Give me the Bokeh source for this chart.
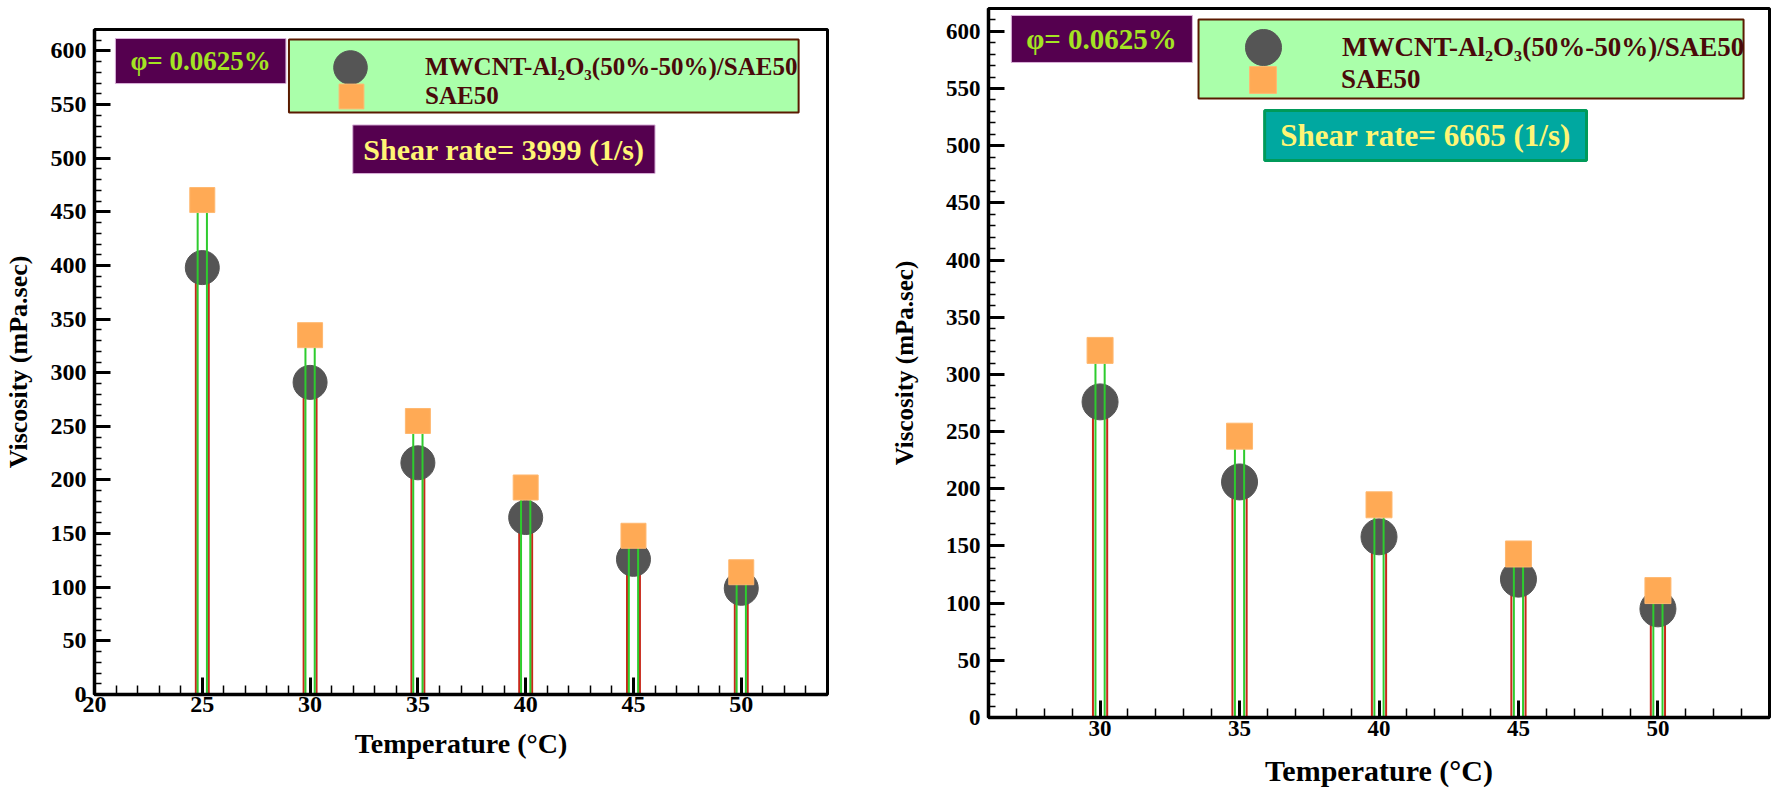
from bokeh.plotting import figure
from bokeh.models import Range1d, FixedTicker, BoxAnnotation, Label, Legend, LegendItem
from bokeh.embed import file_html
from bokeh.resources import INLINE

# ---------------- data ----------------
temps_3999 = [25, 30, 35, 40, 45, 50]
nanofluid_3999 = [398, 291, 216, 165, 126, 99]
sae50_3999 = [461, 335, 255, 193, 148, 114]

temps_6665 = [30, 35, 40, 45, 50]
nanofluid_6665 = [276, 206, 158, 121, 95]
sae50_6665 = [321, 246, 186, 143, 111]

x_major_3999 = [20, 25, 30, 35, 40, 45, 50]
x_minor_3999 = list(range(21, 54))
x_major_6665 = [30, 35, 40, 45, 50]
x_minor_6665 = list(range(27, 54))
y_major = list(range(0, 601, 50))
y_minor = list(range(0, 620, 10))

legend_labels = ["MWCNT-Al\u2082O\u2083(50%-50%)/SAE50", "SAE50"]
phi_text = "\u03c6= 0.0625%"
shear_texts = ["Shear rate= 3999 (1/s)", "Shear rate= 6665 (1/s)"]
x_title = "Temperature (\u00b0C)"
y_title = "Viscosity (mPa.sec)"

FONT = "Liberation Serif"
RED = "#c8281a"
GREEN = "#2ecc2e"
DARK = "#555555"
ORANGE = "#ffaa55"


def make_panel(temps, nano, base, xr, xmaj, xmin, width, height,
               mb, red_w, green_w, circ_size, sq_size, ann):
    p = figure(width=width, height=height,
               x_range=Range1d(*xr), y_range=Range1d(0, 620),
               output_backend="svg", toolbar_location=None,
               min_border_left=mb[0], min_border_right=mb[1],
               min_border_top=mb[2], min_border_bottom=mb[3])
    p.xgrid.visible = False
    p.ygrid.visible = False
    p.background_fill_color = "white"
    p.border_fill_color = "white"
    p.outline_line_color = "black"
    p.outline_line_width = 3
    p.outline_line_alpha = 1

    xa = p.xaxis[0]
    ya = p.yaxis[0]
    xa.ticker = FixedTicker(ticks=xmaj, minor_ticks=xmin)
    ya.ticker = FixedTicker(ticks=y_major, minor_ticks=y_minor)
    for ax in (xa, ya):
        ax.axis_line_width = 3.5
        ax.axis_line_color = "black"
        ax.major_tick_out = 0
        ax.minor_tick_out = 0
        ax.major_tick_line_width = 3
        ax.minor_tick_line_width = 1.5
        ax.major_tick_line_color = "black"
        ax.minor_tick_line_color = "black"
        ax.major_label_text_font = FONT
        ax.major_label_text_font_style = "bold"
        ax.major_label_text_font_size = ann["tick_size"]
        ax.major_label_text_color = "black"
        ax.axis_label_text_font = FONT
        ax.axis_label_text_font_style = "bold"
        ax.axis_label_text_color = "black"
    xa.major_tick_in = 17
    xa.minor_tick_in = 9
    ya.major_tick_in = 16
    ya.minor_tick_in = 7
    xa.axis_label = x_title
    ya.axis_label = y_title
    xa.axis_label_text_font_size = ann["xt_size"]
    ya.axis_label_text_font_size = ann["yt_size"]
    xa.major_label_standoff = ann["x_std"]
    xa.axis_label_standoff = ann["x_title_std"]
    ya.major_label_standoff = 8
    ya.axis_label_standoff = ann["y_title_std"]

    # bars (outline only) then markers
    p.vbar(x=temps, top=nano, bottom=0, width=red_w, fill_alpha=0,
           line_color=RED, line_width=2)
    circ = p.scatter(x=temps, y=nano, marker="circle", size=circ_size,
                     fill_color=DARK, line_color=DARK)
    p.vbar(x=temps, top=base, bottom=0, width=green_w, fill_alpha=0,
           line_color=GREEN, line_width=2)
    sq = p.scatter(x=temps, y=base, marker="square", size=sq_size,
                   fill_color=ORANGE, line_color="#ffb870")

    # phi box
    l, r, b, t = ann["phi_box"]
    p.add_layout(BoxAnnotation(left=l, right=r, bottom=b, top=t,
                               fill_color="#55004f", fill_alpha=1,
                               line_color="#d8b0d8", line_alpha=1, line_width=1))
    p.add_layout(Label(x=ann["phi_xy"][0], y=ann["phi_xy"][1], text=phi_text,
                       text_align="center", text_baseline="middle",
                       text_font=FONT, text_font_style="bold",
                       text_font_size=ann["phi_size"], text_color="#a4e423"))
    # legend box
    l, r, b, t = ann["leg_box"]
    p.add_layout(BoxAnnotation(left=l, right=r, bottom=b, top=t,
                               fill_color="#aaffaa", fill_alpha=1,
                               line_color="#5a1a00", line_alpha=1, line_width=2))
    # shear box
    l, r, b, t = ann["sh_box"]
    p.add_layout(BoxAnnotation(left=l, right=r, bottom=b, top=t,
                               fill_color=ann["sh_fill"], fill_alpha=1,
                               line_color=ann["sh_line"], line_alpha=1,
                               line_width=ann["sh_lw"]))
    p.add_layout(Label(x=ann["sh_xy"][0], y=ann["sh_xy"][1], text=ann["sh_text"],
                       text_align="center", text_baseline="middle",
                       text_font=FONT, text_font_style="bold",
                       text_font_size=ann["sh_size"], text_color="#fff575"))

    # legends (one per entry so each marker keeps its own size)
    for rend, label, g, loc, std in ((circ, legend_labels[0], ann["lg_c"], ann["loc_c"], ann["std_c"]),
                                     (sq, legend_labels[1], ann["lg_s"], ann["loc_s"], ann["std_s"])):
        lg = Legend(items=[LegendItem(label=label, renderers=[rend])],
                    location=loc, glyph_width=g, glyph_height=g,
                    label_standoff=std, padding=0, margin=0, spacing=0,
                    background_fill_alpha=0, border_line_alpha=0,
                    label_text_font=FONT, label_text_font_style="bold",
                    label_text_font_size=ann["leg_size"],
                    label_text_color="#4a0a0a")
        p.add_layout(lg)
    return p


left_ann = dict(
    tick_size="24px",
    xt_size="28px", yt_size="26px", x_std=2, x_title_std=13, y_title_std=15,
    phi_box=(20.97, 28.88, 569.6, 611.6), phi_xy=(24.92, 590.6), phi_size="27px",
    leg_box=(29.02, 52.66, 542.6, 610.7),
    sh_box=(31.98, 46.0, 485.7, 531.0), sh_xy=(38.99, 508.4), sh_size="30px",
    sh_fill="#55004f", sh_line="#d8b0d8", sh_lw=1, sh_text=shear_texts[0],
    lg_c=84, loc_c=(214, 585), std_c=33,
    lg_s=62, loc_s=(226, 567), std_s=43, leg_size="25px",
)
right_ann = dict(
    tick_size="23px",
    xt_size="30px", yt_size="25px", x_std=3, x_title_std=15, y_title_std=25,
    phi_box=(26.82, 33.31, 572.8, 613.9), phi_xy=(30.05, 593.3), phi_size="29px",
    leg_box=(33.53, 53.07, 541.3, 610.4),
    sh_box=(35.90, 47.44, 487.1, 530.8), sh_xy=(41.67, 509.0), sh_size="31px",
    sh_fill="#00a8a0", sh_line="#009a5a", sh_lw=3, sh_text=shear_texts[1],
    lg_c=90, loc_c=(230, 625), std_c=34,
    lg_s=67, loc_s=(241, 604), std_s=45, leg_size="27px",
)

p1 = make_panel(temps_3999, nanofluid_3999, sae50_3999, (20, 54),
                x_major_3999, x_minor_3999, 847, 795, (92, 20, 29, 101),
                0.6, 0.43, 34, 25, left_ann)
p2 = make_panel(temps_6665, nanofluid_6665, sae50_6665, (26, 54),
                x_major_6665, x_minor_6665, 926, 795, (141, 4, 8, 78),
                0.51, 0.33, 36, 26, right_ann)

# place the two independent plots side by side (no frame alignment between them)
page_template = """
{% block postamble %}
<style>
  html, body { overflow: hidden; }
  body { display: flex !important; flex-direction: row; align-items: flex-start; }
</style>
{% endblock %}
"""

open("out.html", "w").write(file_html([p1, p2], INLINE, template=page_template))
